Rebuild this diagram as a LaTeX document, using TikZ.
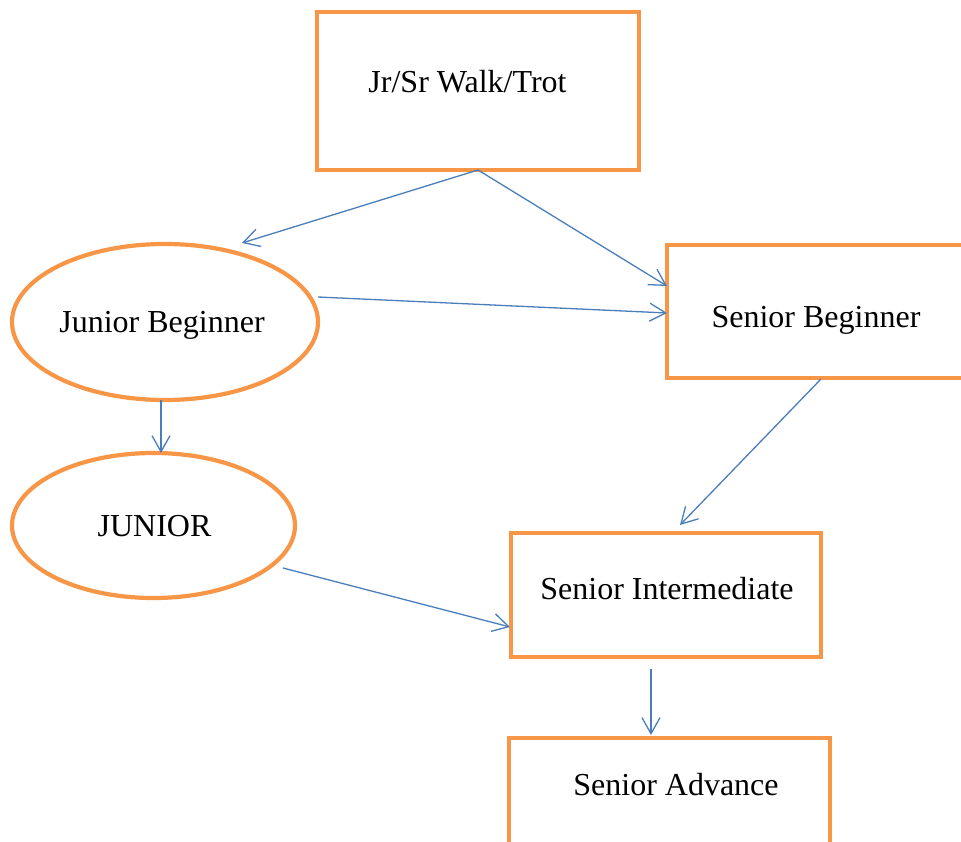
\documentclass[tikz,border=0pt]{standalone}
\usepackage{fontspec}
\setmainfont{Liberation Serif}
\usetikzlibrary{shapes.geometric,arrows.meta,calc}
\definecolor{boxorange}{HTML}{F79646}
\definecolor{arrowblue}{HTML}{4A7EBB}
\begin{document}
\begin{tikzpicture}[x=1pt,y=-1pt,
  boxshape/.style={draw=boxorange,line width=4.2pt,rectangle,inner sep=0pt,outer sep=0pt},
  ellshape/.style={draw=boxorange,line width=4.2pt,ellipse,inner sep=0pt,outer sep=0pt},
  lbl/.style={anchor=base,inner sep=0pt,font=\fontsize{32}{38}\selectfont},
  conn/.style={draw=arrowblue,line width=1.3pt,-{Straight Barb[length=16pt,width=18pt,line width=1.3pt]}}]
\useasboundingbox (0,0) rectangle (961,842);
\clip (0,0) rectangle (961,842);
% shapes
\node[boxshape,minimum width=322pt,minimum height=158pt] (top) at (478,91) {};
\node[ellshape,minimum width=306pt,minimum height=156pt] (jb) at (165,322) {};
\node[ellshape,minimum width=283pt,minimum height=145pt] (jr) at (153.5,525.5) {};
\node[boxshape,minimum width=333pt,minimum height=133pt] (sb) at (833.5,311.5) {};
\node[boxshape,minimum width=310pt,minimum height=124pt] (si) at (666,595) {};
\node[boxshape,minimum width=321pt,minimum height=142pt] (sa) at (669.5,809) {};
% texts
\node[lbl] (ttop) at (467.5,93) {Jr/Sr Walk/Trot};
\node[lbl] (tjb) at (162,332) {Junior Beginner};
\node[lbl] (tjr) at (154.5,536) {JUNIOR};
\node[lbl] (tsb) at (816,327) {Senior Beginner};
\node[lbl] (tsi) at (667,599) {Senior Intermediate};
\node[lbl] (tsa) at (676,795) {Senior Advance};
% connectors
\draw[conn] (top.south) -- ([shift={(77,-79)}]jb.center);
\draw[conn] (top.south) -- ([shift={(0,41)}]sb.north west);
\draw[conn] ([shift={(153,-25)}]jb.center) -- ([shift={(0,68)}]sb.north west);
\draw[conn] ([xshift=-4pt]jb.south) -- ([xshift=-4pt]jb.south |- jr.north);
\draw[conn] ([shift={(154,1)}]sb.south west) -- ([shift={(169,-8)}]si.north west);
\draw[conn] ([shift={(129.5,42.5)}]jr.center) -- ([shift={(-1,94)}]si.north west);
\draw[conn] ([shift={(140,12)}]si.south west) -- ([shift={(142,-3)}]sa.north west);
\end{tikzpicture}
\end{document}
